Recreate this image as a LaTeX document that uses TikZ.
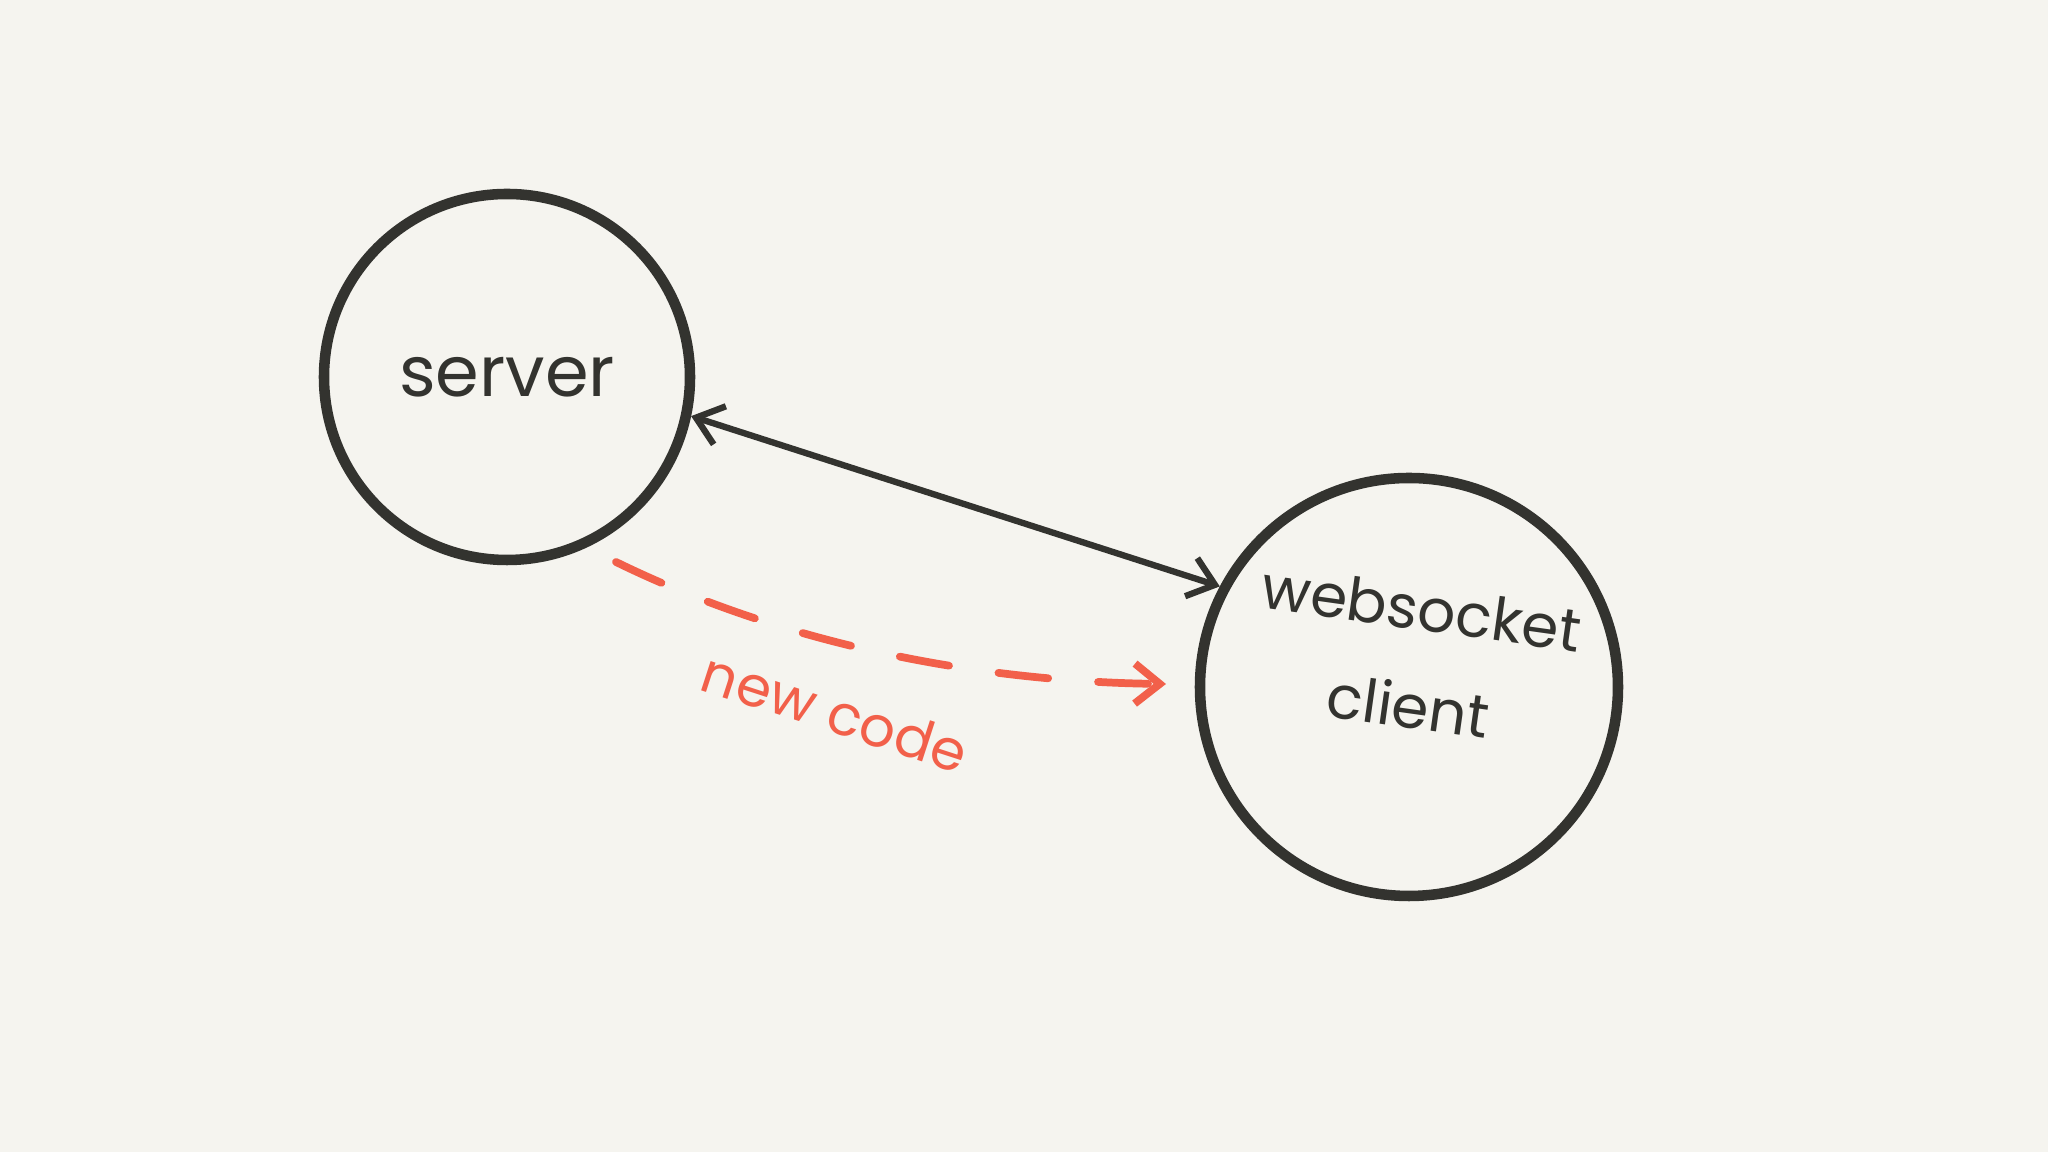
\documentclass[tikz,border=0pt]{standalone}
\usepackage{fontspec}
\setmainfont{Poppins}
\usetikzlibrary{arrows.meta}
\definecolor{bg}{HTML}{F5F4EF}
\definecolor{ink}{HTML}{33332F}
\definecolor{redink}{HTML}{F2604A}
\tikzset{
  circ/.style={circle,draw=ink,line width=3pt,text=ink,font=\fontsize{20}{24}\selectfont,align=center},
  link/.style={draw=ink,line width=1.8pt,{Straight Barb[length=2.5mm,width=4mm]}-{Straight Barb[length=2.5mm,width=4mm]}},
  newlink/.style={draw=redink,line width=2.2pt,dash pattern=on 5mm off 5mm,line cap=round,-{Straight Barb[length=2.5mm,width=4mm]}}
}
\begin{document}
\begin{tikzpicture}
\fill[bg] (0,0) rectangle (20.48,11.52);
\useasboundingbox (0,0) rectangle (20.48,11.52);
\node[circ,minimum size=3.66cm] (srv) at (5.07,7.75) {server};
\node[circ,minimum size=4.18cm] (cli) at (14.09,4.65) {};
\node[text=ink,font=\fontsize{17}{28}\selectfont,align=center,rotate=-8] (clitxt) at (14.15,4.95) {websocket\\client};
\draw[link] (srv.-12) -- (cli.152);
\coordinate (s) at (6.16,5.9);
\coordinate (e) at (11.66,4.68);
\draw[newlink] (s) .. controls (8,5) and (10,4.7) .. (e);
\node[text=redink,font=\fontsize{16}{20}\selectfont,rotate=-18] (lbl) at (8.35,4.4) {new code};
\end{tikzpicture}
\end{document}
